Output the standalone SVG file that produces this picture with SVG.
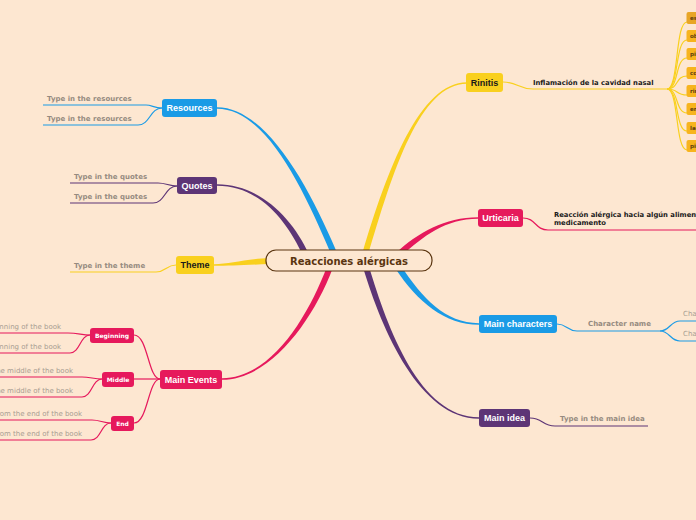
<svg xmlns="http://www.w3.org/2000/svg" width="696" height="520" viewBox="0 0 696 520">
<style>
.bg{fill:#fde7d1}
.thin{fill:none;stroke-width:1.2}
.y{stroke:#f9d01e}.yf{fill:#f9d01e}
.p{stroke:#e6195c}.pf{fill:#e6195c}
.b{stroke:#1a9be6}.bf{fill:#1a9be6}
.v{stroke:#5d3576}.vf{fill:#5d3576}
.main{font-family:"Liberation Sans",Arial,sans-serif;font-weight:bold;font-size:9px;text-anchor:middle}
.w{fill:#ffffff}
.k{fill:#1a1a1a}
.sub{font-family:"DejaVu Sans",Verdana,sans-serif;font-weight:bold;font-size:7px;fill:#968b80}
.subr{font-family:"DejaVu Sans",Verdana,sans-serif;font-size:7px;fill:#a89d92}
.blk{font-family:"DejaVu Sans",Verdana,sans-serif;font-weight:bold;font-size:6.8px;fill:#1a1a1a}
.sm{font-family:"DejaVu Sans",Verdana,sans-serif;font-weight:bold;font-size:6px;fill:#ffffff;text-anchor:middle}
.tiny{font-family:"DejaVu Sans",Verdana,sans-serif;font-weight:bold;font-size:5.5px;fill:#5a3a10}
.or{fill:#f7b41e}
</style>
<rect class="bg" x="0" y="0" width="696" height="520"/>
<g id="connectors">
  <!-- main tapered branches -->
  <path class="bf" d="M 335.76 249.83 C 307.76 183.83, 265 107.2, 217 107.2 L 217 108.8 C 265 108.8, 302.24 186.17, 330.24 252.17 Z"/>
  <path class="vf" d="M 308.73 253.75 C 292.73 218.75, 260 184.2, 217 184.2 L 217 185.8 C 260 185.8, 287.27 221.25, 303.27 256.25 Z"/>
  <path class="yf" d="M 269.88 258 C 244.88 259, 230 264.2, 214 264.2 L 214 265.8 C 230 265.8, 245.12 265, 270.12 264 Z"/>
  <path class="pf" d="M 327.19 265.94 C 307.19 318.94, 270 378.2, 222 378.2 L 222 379.8 C 270 379.8, 312.81 321.06, 332.81 268.06 Z"/>
  <path class="yf" d="M 367.88 255.85 C 392.88 170.85, 420 83.8, 467 83.8 L 467 82.2 C 420 82.2, 387.12 169.15, 362.12 254.15 Z"/>
  <path class="pf" d="M 400.02 257.22 C 422.02 237.22, 445 218.8, 478 218.8 L 478 217.2 C 445 217.2, 417.98 232.78, 395.98 252.78 Z"/>
  <path class="bf" d="M 395.5 268.66 C 417.5 301.66, 445 324.8, 479 324.8 L 479 323.2 C 445 323.2, 422.5 298.34, 400.5 265.34 Z"/>
  <path class="vf" d="M 363.13 267.87 C 382.13 330.87, 420 418.8, 479 418.8 L 479 417.2 C 420 417.2, 387.87 329.13, 368.87 266.13 Z"/>
  <!-- Resources children -->
  <path class="thin b" d="M 162 108 C 154 108, 152 105, 146 105 L 43 105"/>
  <path class="thin b" d="M 162 108 C 150 108, 150 125, 138 125 L 43 125"/>
  <!-- Quotes children -->
  <path class="thin v" d="M 177 186 C 169 186, 166 183, 158 183 L 70 183"/>
  <path class="thin v" d="M 177 186 C 165 186, 165 203, 153 203 L 70 203"/>
  <!-- Theme child -->
  <path class="thin y" d="M 176 265 C 166 265, 166 272, 156 272 L 70 272"/>
  <!-- Main events children -->
  <path class="thin p" d="M 160 379 C 148 379, 148 335, 134 335"/>
  <path class="thin p" d="M 160 379 L 134 379"/>
  <path class="thin p" d="M 160 379 C 148 379, 148 423, 134 423"/>
  <path class="thin p" d="M 90 335 C 82 335, 78 333, 68 333 L -5 333"/>
  <path class="thin p" d="M 90 335 C 80 335, 80 353, 70 353 L -5 353"/>
  <path class="thin p" d="M 102 379 C 94 379, 90 377, 82 377 L -5 377"/>
  <path class="thin p" d="M 102 379 C 92 379, 92 397, 82 397 L -5 397"/>
  <path class="thin p" d="M 111 423 C 103 423, 100 420, 92 420 L -5 420"/>
  <path class="thin p" d="M 111 423 C 101 423, 101 440, 91 440 L -5 440"/>
  <!-- Rinitis children -->
  <path class="thin y" d="M 503 82 C 518 82, 518 89, 533 89 L 667 89"/>
  <path class="thin y" d="M 667 89 C 679 89, 675 22, 687 22"/>
  <path class="thin y" d="M 667 89 C 679 89, 675 40, 687 40"/>
  <path class="thin y" d="M 667 89 C 679 89, 675 58, 687 58"/>
  <path class="thin y" d="M 667 89 C 679 89, 675 76, 687 76"/>
  <path class="thin y" d="M 667 89 C 679 89, 675 95, 687 95"/>
  <path class="thin y" d="M 667 89 C 679 89, 675 113, 687 113"/>
  <path class="thin y" d="M 667 89 C 679 89, 675 131, 687 131"/>
  <path class="thin y" d="M 667 89 C 679 89, 675 150, 687 150"/>
  <!-- Urticaria child -->
  <path class="thin p" d="M 523 218 C 536 218, 535 230, 548 230 L 700 230"/>
  <!-- Main characters children -->
  <path class="thin b" d="M 557 324 C 567 324, 567 331, 577 331 L 660 331"/>
  <path class="thin b" d="M 660 331 C 670 331, 670 321, 680 321 L 700 321"/>
  <path class="thin b" d="M 660 331 C 670 331, 670 341, 680 341 L 700 341"/>
  <!-- Main idea child -->
  <path class="thin v" d="M 530 418 C 543 418, 542 426, 555 426 L 648 426"/>
</g>
<g id="center">
  <rect x="266" y="250" width="166" height="21" rx="10" fill="#fde7d1" stroke="#5a3510" stroke-width="1.2"/>
  <text x="349" y="264.5" font-family="DejaVu Sans, Verdana, sans-serif" font-weight="bold" font-size="10" fill="#5a3510" text-anchor="middle">Reacciones alérgicas</text>
</g>
<g id="resources">
  <rect class="bf" x="162" y="99" width="55" height="18" rx="3"/>
  <text class="main w" x="189.5" y="111.3">Resources</text>
  <text class="sub" x="47" y="101">Type in the resources</text>
  <text class="sub" x="47" y="121">Type in the resources</text>
</g>
<g id="quotes">
  <rect class="vf" x="177" y="177" width="40" height="17" rx="3"/>
  <text class="main w" x="197" y="188.8">Quotes</text>
  <text class="sub" x="74" y="179">Type in the quotes</text>
  <text class="sub" x="74" y="199">Type in the quotes</text>
</g>
<g id="theme">
  <rect class="yf" x="176" y="256" width="38" height="18" rx="3"/>
  <text class="main k" x="195" y="268.3">Theme</text>
  <text class="sub" x="74" y="268">Type in the theme</text>
</g>
<g id="main-events">
  <rect class="pf" x="160" y="370" width="62" height="19" rx="3"/>
  <text class="main w" x="191" y="382.8">Main Events</text>
</g>
<g id="beginning">
  <rect class="pf" x="90" y="328" width="44" height="15" rx="3"/>
  <text class="sm" x="112" y="337.6">Beginning</text>
  <text class="subr" x="61" y="329" text-anchor="end">Type in the events from the beginning of the book</text>
  <text class="subr" x="61" y="349" text-anchor="end">Type in the events from the beginning of the book</text>
</g>
<g id="middle">
  <rect class="pf" x="102" y="372" width="32" height="15" rx="3"/>
  <text class="sm" x="118" y="381.6">Middle</text>
  <text class="subr" x="73" y="373" text-anchor="end">Type in the events from the middle of the book</text>
  <text class="subr" x="73" y="393" text-anchor="end">Type in the events from the middle of the book</text>
</g>
<g id="end">
  <rect class="pf" x="111" y="416" width="23" height="15" rx="3"/>
  <text class="sm" x="122.5" y="425.6">End</text>
  <text class="subr" x="82" y="416" text-anchor="end">Type in the events from the end of the book</text>
  <text class="subr" x="82" y="436" text-anchor="end">Type in the events from the end of the book</text>
</g>
<g id="rinitis">
  <rect class="yf" x="466" y="73" width="37" height="19" rx="3"/>
  <text class="main k" x="484.5" y="85.5">Rinitis</text>
  <text class="blk" x="533" y="85">Inflamación de la cavidad nasal</text>
</g>
<g id="rinitis-items">
  <rect x="686.5" y="12" width="20" height="12" rx="2" fill="#e8a526"/>
  <text class="tiny" x="690" y="20">estornudos</text>
  <rect class="or" x="686.5" y="30" width="20" height="12" rx="2"/>
  <text class="tiny" x="690" y="38">obstrucción</text>
  <rect class="or" x="686.5" y="48" width="20" height="12" rx="2"/>
  <text class="tiny" x="690" y="56">picor</text>
  <rect class="or" x="686.5" y="67" width="20" height="12" rx="2"/>
  <text class="tiny" x="690" y="75">congestión</text>
  <rect class="or" x="686.5" y="85" width="20" height="12" rx="2"/>
  <text class="tiny" x="690" y="93">rinorrea</text>
  <rect class="or" x="686.5" y="103" width="20" height="12" rx="2"/>
  <text class="tiny" x="690" y="111">enrojecimiento</text>
  <rect class="or" x="686.5" y="122" width="20" height="12" rx="2"/>
  <text class="tiny" x="690" y="130">lagrimeo</text>
  <rect class="or" x="686.5" y="140" width="20" height="12" rx="2"/>
  <text class="tiny" x="690" y="148">picazón</text>
</g>
<g id="urticaria">
  <rect class="pf" x="478" y="209" width="45" height="18" rx="3"/>
  <text class="main w" x="500.5" y="221.3">Urticaria</text>
  <text class="blk" x="554" y="217">Reacción alérgica hacia algún alimento o</text>
  <text class="blk" x="554" y="225">medicamento</text>
</g>
<g id="main-characters">
  <rect class="bf" x="479" y="315" width="78" height="18" rx="3"/>
  <text class="main w" x="518" y="327.3">Main characters</text>
  <text class="sub" x="588" y="326">Character name</text>
  <text class="subr" x="683" y="316">Character trait</text>
  <text class="subr" x="683" y="336">Character trait</text>
</g>
<g id="main-idea">
  <rect class="vf" x="479" y="409" width="51" height="18" rx="3"/>
  <text class="main w" x="504.5" y="421.3">Main idea</text>
  <text class="sub" x="560" y="421">Type in the main idea</text>
</g>
</svg>
